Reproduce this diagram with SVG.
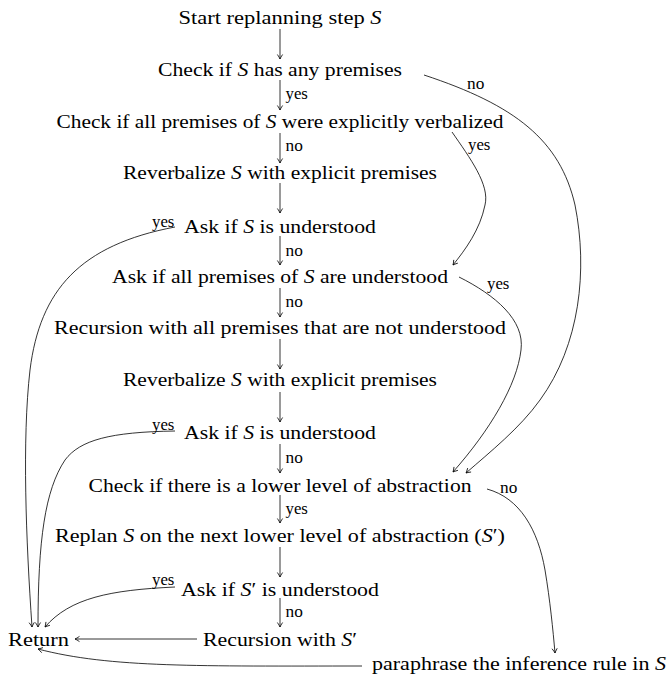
<svg xmlns="http://www.w3.org/2000/svg" width="671" height="678" viewBox="0 0 671 678">
<style>
text{font-family:"Liberation Serif","Times New Roman",serif;fill:#000}
.n{font-size:19.5px;text-anchor:middle}
.l{font-size:16px}
.i{font-style:italic}
.c{fill:none;stroke:#000;stroke-width:0.8}
</style>
<defs>
<marker id="ah" viewBox="-6 -4 7 8" refX="0" refY="0" markerWidth="7" markerHeight="8" markerUnits="userSpaceOnUse" orient="auto">
<path d="M-4.5,-2.6 Q-1.5,-0.6 0,0 Q-1.5,0.6 -4.5,2.6" fill="none" stroke="#000" stroke-width="0.8"/>
</marker>
</defs>
<rect width="671" height="678" fill="#fff"/>
<g id="n1"><text class="n" x="280" y="24" textLength="203" lengthAdjust="spacingAndGlyphs">Start replanning step <tspan class="i">S</tspan></text></g>
<g id="n2"><text class="n" x="280" y="76" textLength="244" lengthAdjust="spacingAndGlyphs">Check if <tspan class="i">S</tspan> has any premises</text></g>
<g id="n3"><text class="n" x="280" y="128" textLength="447" lengthAdjust="spacingAndGlyphs">Check if all premises of <tspan class="i">S</tspan> were explicitly verbalized</text></g>
<g id="n4"><text class="n" x="280" y="179" textLength="314" lengthAdjust="spacingAndGlyphs">Reverbalize <tspan class="i">S</tspan> with explicit premises</text></g>
<g id="n5"><text class="n" x="280" y="233" textLength="192" lengthAdjust="spacingAndGlyphs">Ask if <tspan class="i">S</tspan> is understood</text></g>
<g id="n6"><text class="n" x="280" y="283" textLength="336" lengthAdjust="spacingAndGlyphs">Ask if all premises of <tspan class="i">S</tspan> are understood</text></g>
<g id="n7"><text class="n" x="280" y="334" textLength="452" lengthAdjust="spacingAndGlyphs">Recursion with all premises that are not understood</text></g>
<g id="n8"><text class="n" x="280" y="386" textLength="314" lengthAdjust="spacingAndGlyphs">Reverbalize <tspan class="i">S</tspan> with explicit premises</text></g>
<g id="n9"><text class="n" x="280" y="439" textLength="192" lengthAdjust="spacingAndGlyphs">Ask if <tspan class="i">S</tspan> is understood</text></g>
<g id="n10"><text class="n" x="280" y="492" textLength="383" lengthAdjust="spacingAndGlyphs">Check if there is a lower level of abstraction</text></g>
<g id="n11"><text class="n" x="280" y="542" textLength="450" lengthAdjust="spacingAndGlyphs">Replan <tspan class="i">S</tspan> on the next lower level of abstraction (<tspan class="i">S</tspan>′)</text></g>
<g id="n12"><text class="n" x="280" y="596" textLength="198" lengthAdjust="spacingAndGlyphs">Ask if <tspan class="i">S</tspan>′ is understood</text></g>
<g id="n13"><text class="n" x="280" y="646" textLength="154" lengthAdjust="spacingAndGlyphs">Recursion with <tspan class="i">S</tspan>′</text></g>
<g id="ret"><text class="n" x="38.5" y="646" textLength="61" lengthAdjust="spacingAndGlyphs">Return</text></g>
<g id="para"><text class="n" x="519" y="670" textLength="294" lengthAdjust="spacingAndGlyphs">paraphrase the inference rule in <tspan class="i">S</tspan></text></g>
<g id="connectors">
<g marker-end="url(#ah)">
<path class="c" d="M280,29 V59"/>
<path class="c" d="M280,80 V110"/>
<path class="c" d="M280,133 V163"/>
<path class="c" d="M280,183 V213"/>
<path class="c" d="M280,236 V265"/>
<path class="c" d="M280,288 V317"/>
<path class="c" d="M280,339 V369"/>
<path class="c" d="M280,392 V422"/>
<path class="c" d="M280,444 V473"/>
<path class="c" d="M280,495 V523"/>
<path class="c" d="M280,547 V577"/>
<path class="c" d="M280,598 V627"/>
<path class="c" d="M197,639 H75"/>
<path class="c" d="M424,75 C515,105 560,140 575,205 C588,270 580,345 540,400 C520,428 490,452 466,473"/>
<path class="c" d="M452,132 C470,158 490,185 485,205 C480,230 465,250 453,265"/>
<path class="c" d="M459,277 C495,295 525,320 521,350 C517,385 490,430 453,472"/>
<path class="c" d="M487,489 C520,498 538,530 545,570 C550,600 553,630 555,653"/>
<path class="c" d="M175,227 C80,245 40,290 30,370 C22,440 26,540 32,627"/>
<path class="c" d="M175,431 C110,432 80,440 65,460 C45,490 38,540 38,627"/>
<path class="c" d="M175,587 C110,590 70,598 45,627"/>
<path class="c" d="M362,666 C200,666 110,668 38,649"/>
</g>
<text class="l" x="285.5" y="99" textLength="22.4" lengthAdjust="spacingAndGlyphs">yes</text>
<text class="l" x="285.5" y="151" textLength="17.3" lengthAdjust="spacingAndGlyphs">no</text>
<text class="l" x="285.5" y="256" textLength="17.3" lengthAdjust="spacingAndGlyphs">no</text>
<text class="l" x="285.5" y="307" textLength="17.3" lengthAdjust="spacingAndGlyphs">no</text>
<text class="l" x="285.5" y="463" textLength="17.3" lengthAdjust="spacingAndGlyphs">no</text>
<text class="l" x="285.5" y="514" textLength="22.4" lengthAdjust="spacingAndGlyphs">yes</text>
<text class="l" x="285.5" y="617" textLength="17.3" lengthAdjust="spacingAndGlyphs">no</text>
<text class="l" x="467" y="89" textLength="17.3" lengthAdjust="spacingAndGlyphs">no</text>
<text class="l" x="468" y="150" textLength="22.4" lengthAdjust="spacingAndGlyphs">yes</text>
<text class="l" x="487" y="289" textLength="22.4" lengthAdjust="spacingAndGlyphs">yes</text>
<text class="l" x="500" y="493" textLength="17.3" lengthAdjust="spacingAndGlyphs">no</text>
<text class="l" x="152" y="227" textLength="22.4" lengthAdjust="spacingAndGlyphs">yes</text>
<text class="l" x="152" y="430" textLength="22.4" lengthAdjust="spacingAndGlyphs">yes</text>
<text class="l" x="152" y="585" textLength="22.4" lengthAdjust="spacingAndGlyphs">yes</text>
</g>
</svg>
